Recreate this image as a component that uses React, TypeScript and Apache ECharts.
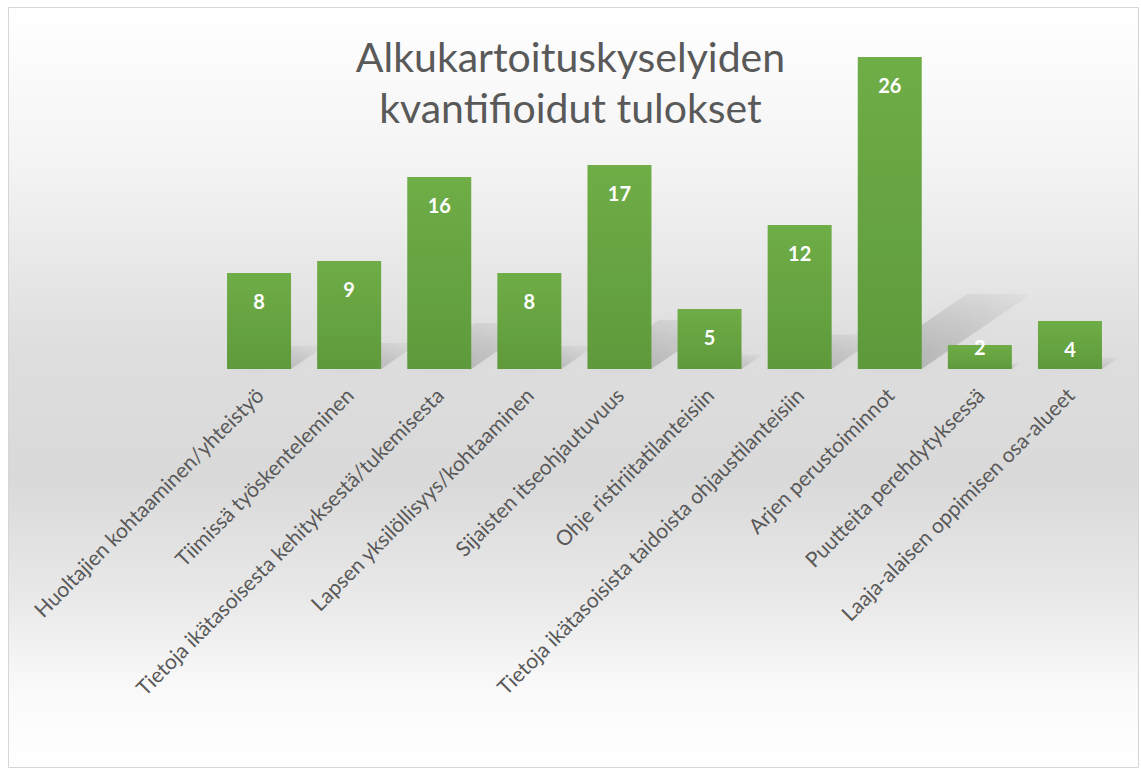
import React, { useEffect, useRef } from "react";
import * as echarts from "echarts";

const titleText = "Alkukartoituskyselyiden\nkvantifioidut tulokset";
const categories = [
  "Huoltajien kohtaaminen/yhteistyö",
  "Tiimissä työskenteleminen",
  "Tietoja ikätasoisesta kehityksestä/tukemisesta",
  "Lapsen yksilöllisyys/kohtaaminen",
  "Sijaisten itseohjautuvuus",
  "Ohje ristiriitatilanteisiin",
  "Tietoja ikätasoisista taidoista ohjaustilanteisiin",
  "Arjen perustoiminnot",
  "Puutteita perehdytyksessä",
  "Laaja-alaisen oppimisen osa-alueet",
];
const values = [8, 9, 16, 8, 17, 5, 12, 26, 2, 4];

const FONT = "Lato, 'Open Sans', sans-serif";
const BAR_W = 64;

export default function App() {
  const ref = useRef<HTMLDivElement>(null);
  useEffect(() => {
    if (!ref.current) return;
    const chart = echarts.init(ref.current, null, { renderer: "svg" });
    const option: any = {
      animation: false,
      backgroundColor: "transparent",
      graphic: [
        {
          type: "rect",
          z: -10,
          silent: true,
          shape: { x: 8.5, y: 7.5, width: 1130, height: 760 },
          style: {
            stroke: "#d6d6d6",
            lineWidth: 1,
            fill: new echarts.graphic.LinearGradient(0, 0, 0, 1, [
              { offset: 0, color: "#ffffff" },
              { offset: 0.2, color: "#f4f4f4" },
              { offset: 0.45, color: "#dedede" },
              { offset: 0.62, color: "#d9d9d9" },
              { offset: 0.78, color: "#e9e9e9" },
              { offset: 0.9, color: "#fafafa" },
              { offset: 1, color: "#ffffff" },
            ]),
          },
        },
      ],
      title: {
        text: titleText,
        left: "center",
        top: 26,
        textStyle: {
          fontFamily: FONT,
          fontSize: 41,
          fontWeight: "normal",
          color: "#595959",
          lineHeight: 51,
        },
      },
      grid: { left: 214, right: 26, top: 57, bottom: 400, containLabel: false },
      xAxis: {
        type: "category",
        data: categories,
        axisLine: { show: false },
        axisTick: { show: false },
        axisLabel: {
          rotate: 45,
          interval: 0,
          margin: 22,
          fontFamily: FONT,
          fontSize: 21,
          color: "#595959",
        },
      },
      yAxis: {
        type: "value",
        min: 0,
        max: 26,
        show: false,
        splitLine: { show: false },
      },
      series: [
        {
          type: "custom",
          z: 1,
          silent: true,
          data: values.map((v, i) => [i, v]),
          renderItem: (params: any, api: any) => {
            const i = api.value(0);
            const v = api.value(1);
            const base = api.coord([i, 0]);
            const top = api.coord([i, v]);
            const h = base[1] - top[1];
            const x0 = base[0] - BAR_W / 2;
            const x1 = base[0] + BAR_W / 2;
            const by = base[1];
            const dx = h * 0.35;
            const dy = h * 0.24;
            return {
              type: "polygon",
              shape: {
                points: [
                  [x0, by],
                  [x1, by],
                  [x1 + dx, by - dy],
                  [x0 + dx, by - dy],
                ],
              },
              style: {
                fill: new echarts.graphic.LinearGradient(0, 1, 1, 0, [
                  { offset: 0, color: "rgba(0,0,0,0.2)" },
                  { offset: 1, color: "rgba(0,0,0,0.02)" },
                ]),
                shadowBlur: 16,
                shadowColor: "rgba(0,0,0,0.18)",
              },
            };
          },
        },
        {
          type: "bar",
          z: 3,
          barWidth: BAR_W,
          data: values.map((v) =>
            v < 3
              ? { value: v, label: { position: "top", distance: -12 } }
              : v
          ),
          itemStyle: {
            color: new echarts.graphic.LinearGradient(0, 0, 0, 1, [
              { offset: 0, color: "#6fad47" },
              { offset: 1, color: "#5e9a3b" },
            ]),
          },
          label: {
            show: true,
            position: "insideTop",
            distance: 18,
            fontFamily: FONT,
            fontSize: 20,
            fontWeight: "bold",
            color: "#ffffff",
          },
        },
      ],
    };
    chart.setOption(option);
    return () => chart.dispose();
  }, []);
  return (
    <div
      ref={ref}
      style={{ position: "absolute", left: 0, top: 0, width: 1141, height: 769 }}
    />
  );
}
